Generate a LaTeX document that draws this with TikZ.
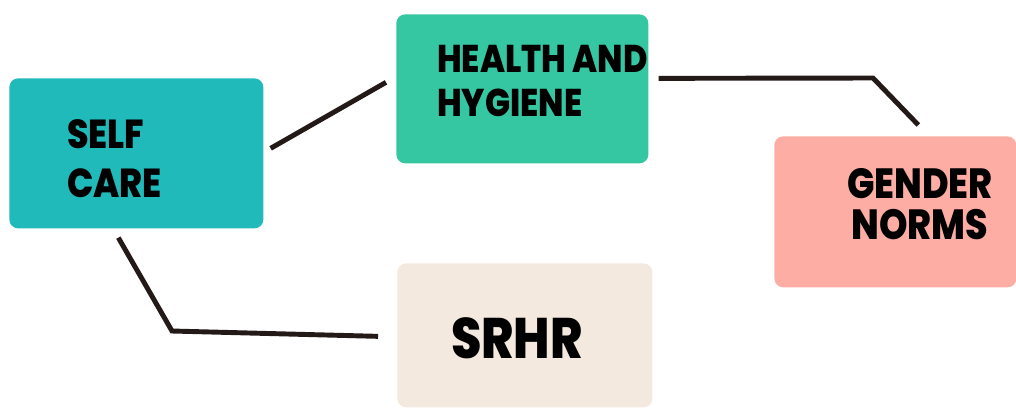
\documentclass[tikz,border=0pt]{standalone}
\usepackage{fontspec}
\newfontfamily\boxfont{Poppins}[FakeStretch=0.86, BoldFont={* ExtraBold}]

\definecolor{selfteal}{HTML}{21BABA}
\definecolor{healthgreen}{HTML}{35C7A2}
\definecolor{gendersalmon}{HTML}{FEADA5}
\definecolor{srhrbeige}{HTML}{F4E9DF}
\definecolor{linkbrown}{HTML}{231A18}

\tikzset{
  card/.style={rounded corners=5pt, inner sep=0pt, anchor=north west},
  cardtext/.style={font=\boxfont\bfseries\fontsize{22}{25}\selectfont, text=black, align=left},
  link/.style={line width=2.8pt, draw=linkbrown},
}

\begin{document}
\begin{tikzpicture}[x=0.02cm, y=-0.02cm]

  \useasboundingbox (0,0) rectangle (1016,407);

  % boxes
  \node[card, fill=selfteal, minimum width=5.08cm, minimum height=3cm] (selfcare) at (9,78) {};
  \node[card, fill=healthgreen, minimum width=5.04cm, minimum height=2.98cm] (health) at (396,14) {};
  \node[card, fill=gendersalmon, minimum width=4.84cm, minimum height=3.02cm] (gender) at (774,136) {};
  \node[card, fill=srhrbeige, minimum width=5.1cm, minimum height=2.88cm] (srhr) at (397,263) {};

  % labels
  \node[cardtext, anchor=west, font=\boxfont\bfseries\fontsize{23}{28}\selectfont] (selfcarelabel) at (61,158.5) {SELF\\CARE};
  \node[cardtext, anchor=west] (healthlabel) at (431,81) {HEALTH AND\\HYGIENE};
  \node[cardtext, align=center, font=\boxfont\bfseries\fontsize{24}{23}\selectfont] (genderlabel) at (920,204) {GENDER\\NORMS};
  \node[cardtext, font=\boxfont\bfseries\fontsize{32.5}{33}\selectfont] (srhrlabel) at (517,338) {SRHR};

  % connectors
  \coordinate (bendgender) at (873,78);
  \coordinate (bendsrhr) at (172,331);

  \draw[link] ([xshift=0.14cm, yshift=0.1cm]selfcare.east) -- ([xshift=-0.2cm, yshift=0.13cm]health.west);
  \draw[link] ([xshift=0.2cm, yshift=0.21cm]health.east) -- (bendgender) -- ([xshift=0.46cm, yshift=0.22cm]gender.north);
  \draw[link] ([xshift=-0.36cm, yshift=-0.18cm]selfcare.south) -- (bendsrhr) -- ([xshift=-0.38cm, yshift=-0.02cm]srhr.west);

\end{tikzpicture}
\end{document}
